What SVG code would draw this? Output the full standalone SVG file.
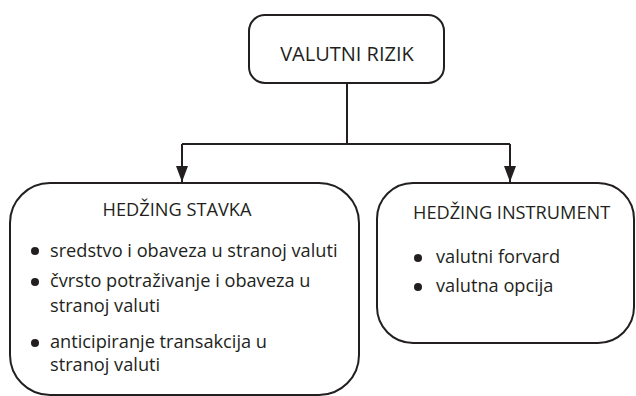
<svg xmlns="http://www.w3.org/2000/svg" width="636" height="396" viewBox="0 0 636 396">
<defs>
<style>
.box{fill:#fff;stroke:#231f20;stroke-width:2}
.t{font-family:"Open Sans","Noto Sans","Liberation Sans",sans-serif;fill:#231f20}
.title{font-size:18.2px}
.body{font-size:18.2px}
.con{fill:none;stroke:#231f20;stroke-width:2}
</style>
<marker id="arr" viewBox="0 0 16 12" refX="16" refY="6" markerWidth="16" markerHeight="12" markerUnits="userSpaceOnUse" orient="auto">
<path d="M0,0 L16,6 L0,12 z" fill="#231f20"/>
</marker>
</defs>
<rect width="636" height="396" fill="#fff"/>
<g id="connectors">
<path class="con" d="M347,83 V144"/>
<path class="con" d="M182,144 H510"/>
<path class="con" d="M182,144 V182" marker-end="url(#arr)"/>
<path class="con" d="M510,144 V182" marker-end="url(#arr)"/>
</g>
<g id="valutni-rizik">
<rect class="box" x="249" y="15" width="195" height="68" rx="16"/>
<text class="t" x="347" y="61" font-size="20" text-anchor="middle">VALUTNI RIZIK</text>
</g>
<g id="hedzing-stavka">
<rect class="box" x="10" y="183" width="349" height="212" rx="40"/>
<text class="t title" x="177" y="216" text-anchor="middle">HEDŽING STAVKA</text>
<circle cx="35" cy="251" r="4" fill="#231f20"/>
<text class="t body" x="50" y="257">sredstvo i obaveza u stranoj valuti</text>
<circle cx="35" cy="282" r="4" fill="#231f20"/>
<text class="t body" x="50" y="287">čvrsto potraživanje i obaveza u</text>
<text class="t body" x="50" y="312">stranoj valuti</text>
<circle cx="35" cy="343" r="4" fill="#231f20"/>
<text class="t body" x="50" y="348">anticipiranje transakcija u</text>
<text class="t body" x="50" y="371">stranoj valuti</text>
</g>
<g id="hedzing-instrument">
<rect class="box" x="377" y="183" width="257" height="160" rx="36"/>
<text class="t title" x="413" y="219">HEDŽING INSTRUMENT</text>
<circle cx="418" cy="258" r="4" fill="#231f20"/>
<text class="t body" x="436" y="263">valutni forvard</text>
<circle cx="418" cy="287" r="4" fill="#231f20"/>
<text class="t body" x="436" y="292">valutna opcija</text>
</g>
</svg>
